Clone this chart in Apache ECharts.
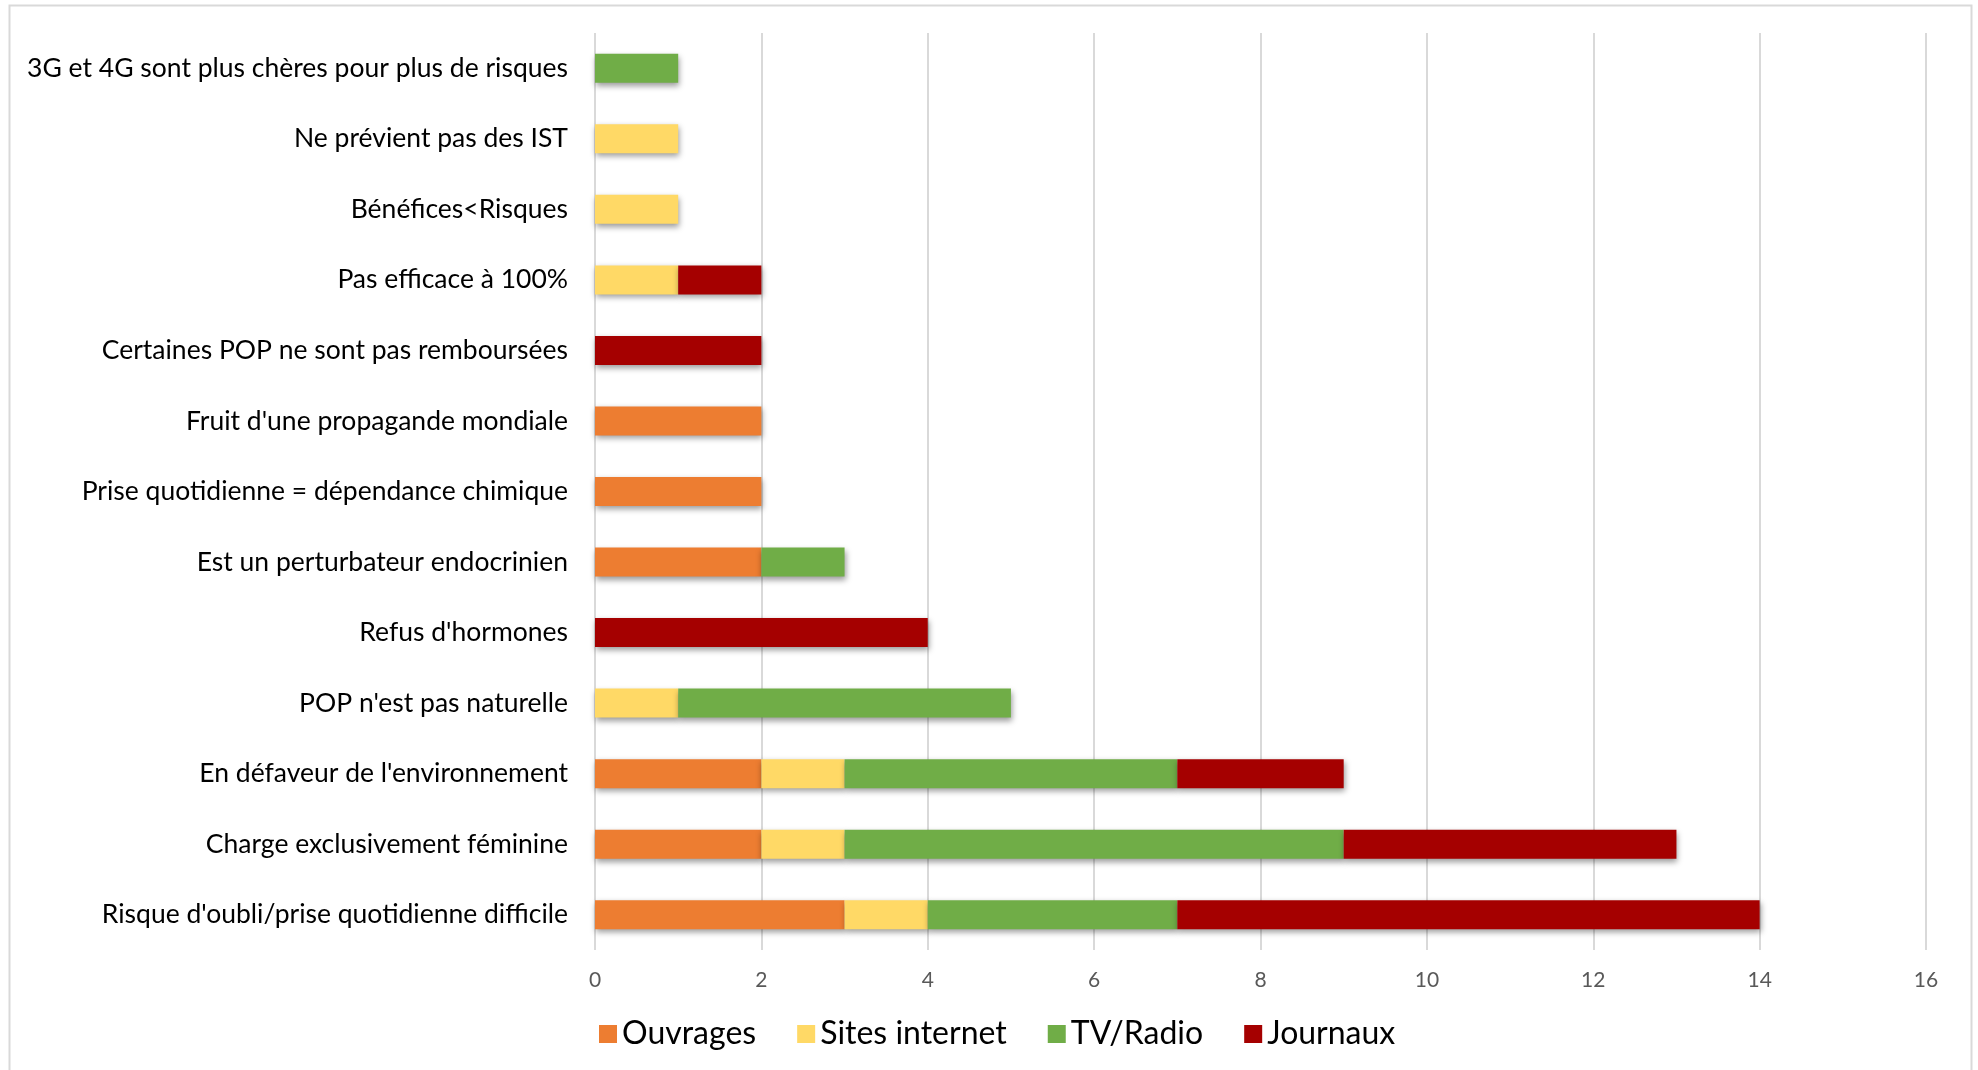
<!DOCTYPE html>
<html>
<head>
<meta charset="utf-8">
<script src="https://cdn.jsdelivr.net/npm/echarts@6/dist/echarts.min.js"></script>
<style>
html,body{margin:0;padding:0;background:#fff;}
#chart{width:1978px;height:1070px;}
</style>
</head>
<body>
<div id="chart"></div>
<script>
// categories, bottom to top
const categories = [
  "Risque d'oubli/prise quotidienne difficile",
  "Charge exclusivement féminine",
  "En défaveur de l'environnement",
  "POP n'est pas naturelle",
  "Refus d'hormones",
  "Est un perturbateur endocrinien",
  "Prise quotidienne = dépendance chimique",
  "Fruit d'une propagande mondiale",
  "Certaines POP ne sont pas remboursées",
  "Pas efficace à 100%",
  "Bénéfices<Risques",
  "Ne prévient pas des IST",
  "3G et 4G sont plus chères pour plus de risques"
];
const seriesNames = ["Ouvrages", "Sites internet", "TV/Radio", "Journaux"];
const ouvrages     = [3, 2, 2, 0, 0, 2, 2, 2, 0, 0, 0, 0, 0];
const sitesInternet= [1, 1, 1, 1, 0, 0, 0, 0, 0, 1, 1, 1, 0];
const tvRadio      = [3, 6, 4, 4, 0, 1, 0, 0, 0, 0, 0, 0, 1];
const journaux     = [7, 4, 2, 0, 4, 0, 0, 0, 2, 1, 0, 0, 0];
const xTicks = [0, 2, 4, 6, 8, 10, 12, 14, 16];

const colors = ["#ED7D31", "#FFD966", "#70AD47", "#A50000"];
const values = [ouvrages, sitesInternet, tvRadio, journaux];
const FONT = "Lato";

const chart = echarts.init(document.getElementById('chart'), null, {renderer: 'canvas'});
chart.setOption({
  animation: false,
  backgroundColor: '#fff',
  color: colors,
  graphic: [{
    type: 'rect', silent: true, z: -1,
    shape: {x: 9.5, y: 5.5, width: 1962, height: 1080},
    style: {fill: 'none', stroke: '#d9d9d9', lineWidth: 2}
  }],
  grid: {left: 595, right: 52, top: 33, bottom: 120, containLabel: false},
  legend: {
    data: seriesNames,
    left: 594, top: 1013,
    itemWidth: 18, itemHeight: 18, itemGap: 41,
    icon: 'rect',
    textStyle: {fontFamily: FONT, fontSize: 32, color: '#000', padding: [0,0,0,0]}
  },
  xAxis: {
    type: 'value', min: 0, max: 16, interval: 2,
    axisLine: {show: false}, axisTick: {show: false},
    axisLabel: {fontFamily: FONT, fontSize: 21, color: '#595959', margin: 20,
      formatter: v => xTicks.includes(v) ? String(v) : ''},
    splitLine: {show: true, lineStyle: {color: '#d9d9d9', width: 2}}
  },
  yAxis: {
    type: 'category', data: categories,
    axisLine: {show: false}, axisTick: {show: false},
    axisLabel: {fontFamily: FONT, fontSize: 26.5, color: '#000', margin: 27}
  },
  series: seriesNames.map((name, i) => ({
    name, type: 'bar', stack: 'total',
    data: values[i],
    barWidth: 29,
    itemStyle: {
      color: colors[i],
      shadowColor: 'rgba(0,0,0,0.4)', shadowBlur: 6, shadowOffsetX: 1, shadowOffsetY: 3
    }
  }))
});
</script>
</body>
</html>
